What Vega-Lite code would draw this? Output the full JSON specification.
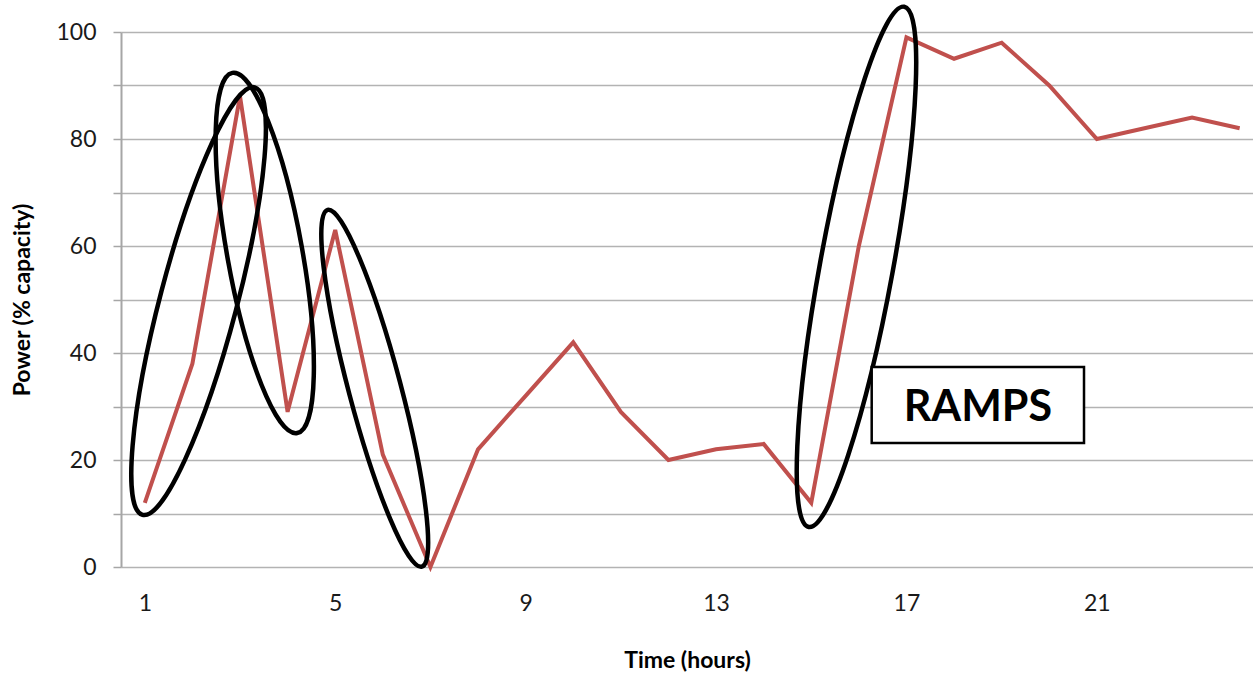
{
  "$schema": "https://vega.github.io/schema/vega-lite/v6.json",
  "width": 1132,
  "height": 535,
  "autosize": {"type": "none"},
  "padding": {"left": 121, "top": 32, "right": 0, "bottom": 107},
  "background": "white",
  "config": {
    "view": {"stroke": null},
    "font": "Lato"
  },
  "datasets": {
    "power": [
      {"hour": 1, "power": 12},
      {"hour": 2, "power": 38},
      {"hour": 3, "power": 88},
      {"hour": 4, "power": 29},
      {"hour": 5, "power": 63},
      {"hour": 6, "power": 21},
      {"hour": 7, "power": 0},
      {"hour": 8, "power": 22},
      {"hour": 9, "power": 32},
      {"hour": 10, "power": 42},
      {"hour": 11, "power": 29},
      {"hour": 12, "power": 20},
      {"hour": 13, "power": 22},
      {"hour": 14, "power": 23},
      {"hour": 15, "power": 12},
      {"hour": 16, "power": 60},
      {"hour": 17, "power": 99},
      {"hour": 18, "power": 95},
      {"hour": 19, "power": 98},
      {"hour": 20, "power": 90},
      {"hour": 21, "power": 80},
      {"hour": 22, "power": 82},
      {"hour": 23, "power": 84},
      {"hour": 24, "power": 82}
    ],
    "ellipses": [
      {"name": "e1", "hour": 2.13, "power": 49.7},
      {"name": "e2", "hour": 3.52, "power": 58.7},
      {"name": "e3", "hour": 5.83, "power": 33.4},
      {"name": "e4", "hour": 15.95, "power": 56.1}
    ],
    "label": [
      {"text": "RAMPS", "hour": 16.27, "hour2": 20.73, "power": 37.4, "power2": 23.2, "mid": 18.5, "midp": 29.8}
    ]
  },
  "encoding": {
    "x": {
      "field": "hour",
      "type": "quantitative",
      "scale": {"domain": [0.5, 24.28], "nice": false, "zero": false},
      "axis": {
        "title": "Time (hours)",
        "values": [1, 5, 9, 13, 17, 21],
        "grid": false,
        "domain": false,
        "ticks": false,
        "labelPadding": 25,
        "labelFontSize": 23,
        "labelColor": "#1a1a1a",
        "titleFontSize": 23,
        "titleFontWeight": "bold",
        "titleColor": "#000000",
        "titleBaseline": "middle",
        "titleY": 93
      }
    },
    "y": {
      "field": "power",
      "type": "quantitative",
      "scale": {"domain": [0, 100], "nice": false},
      "axis": {
        "title": "Power (% capacity)",
        "values": [0, 10, 20, 30, 40, 50, 60, 70, 80, 90, 100],
        "labelExpr": "datum.value % 20 == 0 ? datum.label : ''",
        "grid": true,
        "gridColor": "#b3b3b3",
        "gridWidth": 1.5,
        "domain": true,
        "domainColor": "#a6a6a6",
        "domainWidth": 2,
        "ticks": true,
        "tickSize": 8,
        "tickColor": "#a6a6a6",
        "tickWidth": 1.5,
        "labelPadding": 17,
        "labelFontSize": 23,
        "labelColor": "#1a1a1a",
        "titleFontSize": 23,
        "titleFontWeight": "bold",
        "titleColor": "#000000",
        "titleAngle": -90,
        "titleBaseline": "middle",
        "titleAlign": "center",
        "titleX": -99,
        "titleY": 267.5
      }
    }
  },
  "layer": [
    {
      "data": {"name": "power"},
      "mark": {"type": "line", "color": "#c0504d", "strokeWidth": 4}
    },
    {
      "data": {"name": "ellipses"},
      "transform": [{"filter": "datum.name == 'e1'"}],
      "mark": {
        "type": "point",
        "filled": false,
        "opacity": 1,
        "stroke": "#000000",
        "strokeWidth": 4.5,
        "size": 195364,
        "angle": 284.7,
        "shape": "M1,0C1,0.0961 0.5523,0.174 0,0.174C-0.5523,0.174 -1,0.0961 -1,0C-1,-0.0961 -0.5523,-0.174 0,-0.174C0.5523,-0.174 1,-0.0961 1,0Z"
      }
    },
    {
      "data": {"name": "ellipses"},
      "transform": [{"filter": "datum.name == 'e2'"}],
      "mark": {
        "type": "point",
        "filled": false,
        "opacity": 1,
        "stroke": "#000000",
        "strokeWidth": 4.5,
        "size": 133956,
        "angle": 79.8,
        "shape": "M1,0C1,0.1132 0.5523,0.205 0,0.205C-0.5523,0.205 -1,0.1132 -1,0C-1,-0.1132 -0.5523,-0.205 0,-0.205C0.5523,-0.205 1,-0.1132 1,0Z"
      }
    },
    {
      "data": {"name": "ellipses"},
      "transform": [{"filter": "datum.name == 'e3'"}],
      "mark": {
        "type": "point",
        "filled": false,
        "opacity": 1,
        "stroke": "#000000",
        "strokeWidth": 4.5,
        "size": 136161,
        "angle": 75.2,
        "shape": "M1,0C1,0.0779 0.5523,0.141 0,0.141C-0.5523,0.141 -1,0.0779 -1,0C-1,-0.0779 -0.5523,-0.141 0,-0.141C0.5523,-0.141 1,-0.0779 1,0Z"
      }
    },
    {
      "data": {"name": "ellipses"},
      "transform": [{"filter": "datum.name == 'e4'"}],
      "mark": {
        "type": "point",
        "filled": false,
        "opacity": 1,
        "stroke": "#000000",
        "strokeWidth": 4.5,
        "size": 279841,
        "angle": 280.4,
        "shape": "M1,0C1,0.0762 0.5523,0.138 0,0.138C-0.5523,0.138 -1,0.0762 -1,0C-1,-0.0762 -0.5523,-0.138 0,-0.138C0.5523,-0.138 1,-0.0762 1,0Z"
      }
    },
    {
      "data": {"name": "label"},
      "mark": {"type": "rect", "fill": "#ffffff", "stroke": "#000000", "strokeWidth": 2.5},
      "encoding": {
        "x2": {"field": "hour2"},
        "y2": {"field": "power2"}
      }
    },
    {
      "data": {"name": "label"},
      "mark": {"type": "text", "fontSize": 43, "fontWeight": "bold", "color": "#000000", "align": "center", "baseline": "middle"},
      "encoding": {
        "x": {"field": "mid", "type": "quantitative"},
        "y": {"field": "midp", "type": "quantitative"},
        "text": {"field": "text"}
      }
    }
  ]
}
